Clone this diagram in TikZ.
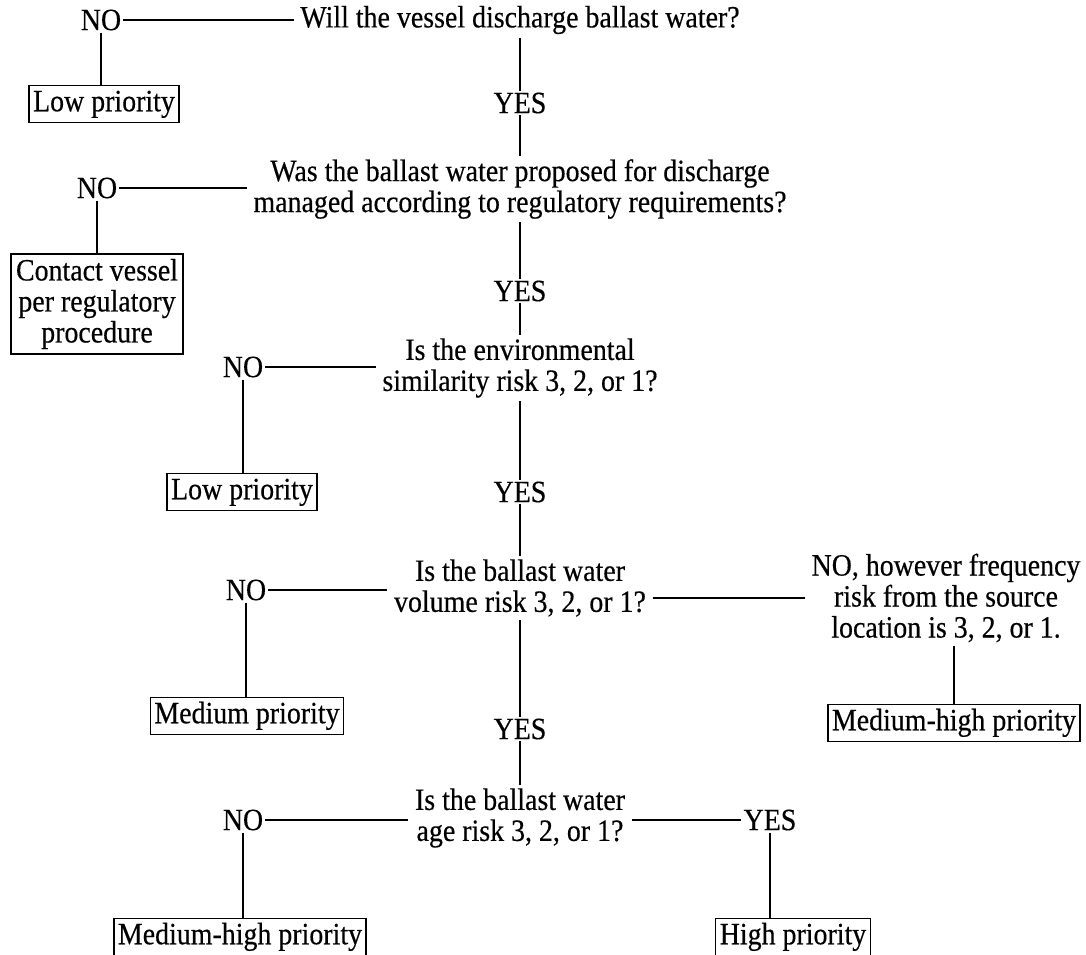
\documentclass[tikz,border=0pt]{standalone}
\usepackage{fontspec}
\setmainfont[FakeBold=0.4,FakeStretch=0.9]{Liberation Serif}
\begin{document}
\begin{tikzpicture}[x=1pt,y=-1pt,
  font=\fontsize{31}{31}\selectfont,
  every path/.style={line width=1.4pt},
  lbl/.style={inner sep=1.5pt},
  q/.style={align=center, inner xsep=6pt, inner ysep=3pt},
  yes/.style={inner xsep=1pt, inner ysep=1pt},
  box/.style={draw, line width=1.4pt, inner xsep=4pt, inner ysep=4pt, align=center, text height=22pt, text depth=7.5pt},
  mbox/.style={draw, line width=1.4pt, inner xsep=5pt, inner ysep=5pt, align=center}]
\useasboundingbox (0,0) rectangle (1086,954);
% level 1
\node[q] (q1) at (520,20) {Will the vessel discharge ballast water?};
\node[lbl] (no1) at (101,20) {NO};
\node[box] (low1) at (104,104) {Low priority};
\node[yes] (yes1) at (520,103) {YES};
% level 2
\node[q] (q2) at (520,189) {Was the ballast water proposed for discharge\\managed according to regulatory requirements?};
\node[lbl] (no2) at (97,188) {NO};
\node[mbox] (contact) at (97,304) {Contact vessel\\per regulatory\\procedure};
\node[yes] (yes2) at (520,291) {YES};
% level 3
\node[q] (q3) at (520,368) {Is the environmental\\similarity risk 3, 2, or 1?};
\node[lbl] (no3) at (243,367) {NO};
\node[box] (low2) at (242,492) {Low priority};
\node[yes] (yes3) at (520,492) {YES};
% level 4
\node[q] (q4) at (520,588) {Is the ballast water\\volume risk 3, 2, or 1?};
\node[lbl] (no4) at (246,590) {NO};
\node[q] (nf) at (946,598) {NO, however frequency\\risk from the source\\location is 3, 2, or 1.};
\node[box] (med) at (247,716) {Medium priority};
\node[box] (mhr) at (954,723) {Medium-high priority};
\node[yes] (yes4) at (520,729) {YES};
% level 5
\node[q] (q5) at (520,818) {Is the ballast water\\age risk 3, 2, or 1?};
\node[lbl] (no5) at (243,820) {NO};
\node[lbl] (yes5) at (770,820) {YES};
\node[box] (mh) at (240,937) {Medium-high priority};
\node[box] (high) at (793,937) {High priority};
% connectors
\draw (no1.east) -- (q1.west);
\draw (no1.south) -- (no1.south |- low1.north);
\draw (q1.south) -- (yes1.north);
\draw (yes1.south) -- (q2.north);
\draw (no2.east) -- (q2.west |- no2.east);
\draw (no2.south) -- (no2.south |- contact.north);
\draw (q2.south) -- (yes2.north);
\draw (yes2.south) -- (q3.north);
\draw (no3.east) -- (q3.west |- no3.east);
\draw (no3.south) -- (no3.south |- low2.north);
\draw (q3.south) -- (yes3.north);
\draw (yes3.south) -- (q4.north);
\draw (no4.east) -- (q4.west |- no4.east);
\draw (no4.south) -- (no4.south |- med.north);
\draw (q4.east |- nf.west) -- (nf.west);
\draw (mhr.north |- nf.south) -- (mhr.north);
\draw (q4.south) -- (yes4.north);
\draw (yes4.south) -- (q5.north);
\draw (no5.east) -- (q5.west |- no5.east);
\draw (no5.south) -- (no5.south |- mh.north);
\draw (q5.east |- yes5.west) -- (yes5.west);
\draw (yes5.south) -- (yes5.south |- high.north);
\end{tikzpicture}
\end{document}
